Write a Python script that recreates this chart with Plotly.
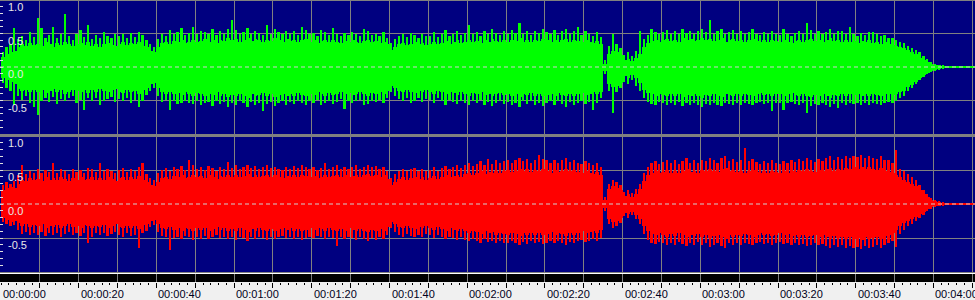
import plotly.graph_objects as go

# ---------------- data (per-second envelope) ----------------
t_sec = list(range(251))

green_core_top = [
    0.15, 0.20, 0.22, 0.24, 0.30, 0.34, 0.31, 0.36, 0.33, 0.35,
    0.32, 0.37, 0.34, 0.30, 0.36, 0.33, 0.38, 0.35, 0.31, 0.34,
    0.36, 0.33, 0.37, 0.32, 0.35, 0.30, 0.34, 0.36, 0.33, 0.31,
    0.35, 0.37, 0.33, 0.36, 0.34, 0.38, 0.32, 0.30, 0.24, 0.22,
    0.30, 0.36, 0.38, 0.35, 0.39, 0.37, 0.40, 0.36, 0.38, 0.41,
    0.37, 0.39, 0.42, 0.38, 0.40, 0.36, 0.41, 0.39, 0.43, 0.40,
    0.42, 0.38, 0.41, 0.44, 0.39, 0.42, 0.40, 0.37, 0.41, 0.39,
    0.43, 0.40, 0.38, 0.42, 0.39, 0.41, 0.37, 0.40, 0.42, 0.38,
    0.40, 0.36, 0.39, 0.41, 0.37, 0.40, 0.38, 0.36, 0.39, 0.37,
    0.40, 0.38, 0.36, 0.39, 0.41, 0.37, 0.39, 0.36, 0.38, 0.34,
    0.26, 0.30, 0.34, 0.36, 0.33, 0.35, 0.37, 0.34, 0.36, 0.33,
    0.35, 0.38, 0.34, 0.36, 0.39, 0.35, 0.37, 0.40, 0.36, 0.38,
    0.41, 0.37, 0.39, 0.36, 0.40, 0.38, 0.42, 0.39, 0.37, 0.40,
    0.38, 0.41, 0.39, 0.43, 0.38, 0.40, 0.37, 0.41, 0.39, 0.42,
    0.40, 0.38, 0.41, 0.37, 0.40, 0.42, 0.38, 0.41, 0.39, 0.37,
    0.40, 0.38, 0.36, 0.39, 0.35, 0.05, 0.20, 0.24, 0.22, 0.18,
    0.10, 0.12, 0.09, 0.13, 0.20, 0.30, 0.36, 0.39, 0.41, 0.38,
    0.40, 0.42, 0.39, 0.41, 0.38, 0.43, 0.40, 0.42, 0.39, 0.41,
    0.44, 0.40, 0.42, 0.39, 0.41, 0.43, 0.38, 0.40, 0.42, 0.39,
    0.41, 0.38, 0.40, 0.42, 0.39, 0.37, 0.40, 0.38, 0.41, 0.39,
    0.37, 0.40, 0.38, 0.36, 0.39, 0.41, 0.38, 0.40, 0.42, 0.39,
    0.41, 0.38, 0.40, 0.43, 0.39, 0.41, 0.38, 0.40, 0.37, 0.39,
    0.36, 0.39, 0.37, 0.40, 0.36, 0.38, 0.35, 0.37, 0.34, 0.33,
    0.32, 0.30, 0.29, 0.25, 0.22, 0.19, 0.14, 0.11, 0.08, 0.05,
    0.035, 0.025, 0.018, 0.012, 0.008, 0.006, 0.006, 0.006, 0.006, 0.006, 0.006,
]
green_core_bot = [
    -0.16, -0.20, -0.23, -0.26, -0.33, -0.36, -0.34, -0.38, -0.35, -0.37,
    -0.35, -0.39, -0.36, -0.33, -0.38, -0.35, -0.40, -0.37, -0.34, -0.36,
    -0.38, -0.35, -0.39, -0.34, -0.37, -0.33, -0.36, -0.38, -0.35, -0.33,
    -0.37, -0.39, -0.35, -0.38, -0.36, -0.40, -0.34, -0.32, -0.26, -0.24,
    -0.32, -0.38, -0.40, -0.37, -0.41, -0.39, -0.42, -0.38, -0.40, -0.43,
    -0.39, -0.41, -0.44, -0.40, -0.42, -0.38, -0.43, -0.41, -0.45, -0.42,
    -0.44, -0.40, -0.43, -0.46, -0.41, -0.44, -0.42, -0.39, -0.43, -0.41,
    -0.45, -0.42, -0.40, -0.44, -0.41, -0.43, -0.39, -0.42, -0.44, -0.40,
    -0.42, -0.38, -0.41, -0.43, -0.39, -0.42, -0.40, -0.38, -0.41, -0.39,
    -0.42, -0.40, -0.38, -0.41, -0.43, -0.39, -0.41, -0.38, -0.40, -0.36,
    -0.28, -0.32, -0.36, -0.38, -0.35, -0.37, -0.39, -0.36, -0.38, -0.35,
    -0.37, -0.40, -0.36, -0.38, -0.41, -0.37, -0.39, -0.42, -0.38, -0.40,
    -0.43, -0.39, -0.41, -0.38, -0.42, -0.40, -0.44, -0.41, -0.39, -0.42,
    -0.40, -0.43, -0.41, -0.45, -0.40, -0.42, -0.39, -0.43, -0.41, -0.44,
    -0.42, -0.40, -0.43, -0.39, -0.42, -0.44, -0.40, -0.43, -0.41, -0.39,
    -0.42, -0.40, -0.38, -0.41, -0.37, -0.06, -0.26, -0.30, -0.28, -0.24,
    -0.14, -0.16, -0.12, -0.17, -0.24, -0.34, -0.39, -0.41, -0.43, -0.40,
    -0.42, -0.44, -0.41, -0.43, -0.40, -0.45, -0.42, -0.44, -0.41, -0.43,
    -0.46, -0.42, -0.44, -0.41, -0.43, -0.45, -0.40, -0.42, -0.44, -0.41,
    -0.43, -0.40, -0.42, -0.44, -0.41, -0.39, -0.42, -0.40, -0.43, -0.41,
    -0.40, -0.43, -0.41, -0.39, -0.42, -0.44, -0.41, -0.43, -0.45, -0.42,
    -0.44, -0.41, -0.43, -0.46, -0.42, -0.44, -0.41, -0.43, -0.40, -0.42,
    -0.40, -0.43, -0.41, -0.44, -0.40, -0.42, -0.44, -0.41, -0.40, -0.42,
    -0.40, -0.38, -0.36, -0.30, -0.27, -0.22, -0.16, -0.12, -0.09, -0.06,
    -0.04, -0.03, -0.02, -0.014, -0.009, -0.006, -0.006, -0.006, -0.006, -0.006, -0.006,
]
green_peak_top = [
    0.22, 0.30, 0.34, 0.58, 0.42, 0.47, 0.40, 0.52, 0.45, 0.73,
    0.58, 0.44, 0.48, 0.60, 0.43, 0.50, 0.79, 0.46, 0.41, 0.49,
    0.55, 0.45, 0.63, 0.42, 0.48, 0.44, 0.52, 0.47, 0.43, 0.50,
    0.46, 0.49, 0.44, 0.51, 0.45, 0.52, 0.48, 0.40, 0.34, 0.30,
    0.42, 0.50, 0.47, 0.55, 0.49, 0.52, 0.58, 0.48, 0.51, 0.60,
    0.49, 0.54, 0.52, 0.50, 0.56, 0.48, 0.53, 0.50, 0.57, 0.70,
    0.55, 0.49, 0.52, 0.58, 0.50, 0.54, 0.51, 0.48, 0.62, 0.50,
    0.56, 0.52, 0.49, 0.54, 0.50, 0.53, 0.48, 0.60, 0.55, 0.49,
    0.51, 0.47, 0.55, 0.52, 0.48, 0.58, 0.50, 0.46, 0.51, 0.48,
    0.52, 0.49, 0.47, 0.56, 0.53, 0.48, 0.50, 0.47, 0.52, 0.44,
    0.36, 0.42, 0.46, 0.49, 0.45, 0.51, 0.48, 0.44, 0.50, 0.46,
    0.47, 0.52, 0.45, 0.49, 0.55, 0.47, 0.50, 0.53, 0.48, 0.51,
    0.62, 0.49, 0.52, 0.47, 0.54, 0.50, 0.56, 0.51, 0.48, 0.53,
    0.50, 0.55, 0.51, 0.65, 0.49, 0.53, 0.48, 0.54, 0.51, 0.56,
    0.52, 0.49, 0.55, 0.48, 0.53, 0.57, 0.50, 0.54, 0.60, 0.48,
    0.53, 0.50, 0.47, 0.52, 0.45, 0.10, 0.32, 0.50, 0.34, 0.28,
    0.18, 0.22, 0.16, 0.24, 0.53, 0.42, 0.48, 0.57, 0.52, 0.49,
    0.52, 0.55, 0.50, 0.53, 0.49, 0.56, 0.51, 0.54, 0.50, 0.53,
    0.57, 0.52, 0.70, 0.50, 0.53, 0.56, 0.49, 0.52, 0.55, 0.50,
    0.53, 0.49, 0.52, 0.56, 0.50, 0.48, 0.52, 0.49, 0.54, 0.50,
    0.48, 0.57, 0.50, 0.47, 0.51, 0.54, 0.49, 0.66, 0.55, 0.50,
    0.53, 0.49, 0.52, 0.56, 0.50, 0.53, 0.54, 0.49, 0.60, 0.50,
    0.47, 0.51, 0.48, 0.52, 0.52, 0.49, 0.46, 0.48, 0.44, 0.43,
    0.41, 0.38, 0.36, 0.32, 0.29, 0.25, 0.22, 0.16, 0.12, 0.08,
    0.05, 0.035, 0.025, 0.016, 0.01, 0.007, 0.007, 0.007, 0.007, 0.007, 0.007,
]
green_peak_bot = [
    -0.24, -0.32, -0.36, -0.57, -0.44, -0.49, -0.43, -0.54, -0.60, -0.72,
    -0.50, -0.46, -0.52, -0.45, -0.55, -0.48, -0.51, -0.47, -0.44, -0.53,
    -0.49, -0.64, -0.47, -0.51, -0.46, -0.57, -0.50, -0.48, -0.45, -0.52,
    -0.48, -0.51, -0.46, -0.53, -0.49, -0.60, -0.50, -0.42, -0.36, -0.32,
    -0.44, -0.52, -0.49, -0.64, -0.51, -0.55, -0.53, -0.50, -0.54, -0.55,
    -0.51, -0.56, -0.53, -0.52, -0.58, -0.50, -0.55, -0.52, -0.59, -0.54,
    -0.57, -0.51, -0.54, -0.60, -0.52, -0.56, -0.53, -0.66, -0.55, -0.52,
    -0.58, -0.54, -0.51, -0.56, -0.52, -0.55, -0.50, -0.54, -0.57, -0.51,
    -0.53, -0.49, -0.56, -0.54, -0.50, -0.55, -0.52, -0.48, -0.62, -0.50,
    -0.54, -0.51, -0.49, -0.57, -0.55, -0.50, -0.52, -0.49, -0.54, -0.46,
    -0.38, -0.44, -0.48, -0.51, -0.47, -0.53, -0.50, -0.46, -0.52, -0.48,
    -0.49, -0.54, -0.47, -0.51, -0.57, -0.49, -0.52, -0.55, -0.50, -0.53,
    -0.56, -0.51, -0.54, -0.49, -0.56, -0.52, -0.58, -0.53, -0.50, -0.55,
    -0.52, -0.57, -0.53, -0.59, -0.51, -0.55, -0.50, -0.56, -0.53, -0.58,
    -0.54, -0.51, -0.57, -0.50, -0.55, -0.59, -0.52, -0.56, -0.53, -0.50,
    -0.55, -0.52, -0.64, -0.54, -0.47, -0.10, -0.36, -0.69, -0.38, -0.32,
    -0.22, -0.26, -0.20, -0.28, -0.36, -0.46, -0.52, -0.55, -0.56, -0.52,
    -0.54, -0.57, -0.53, -0.56, -0.52, -0.58, -0.54, -0.57, -0.53, -0.56,
    -0.60, -0.55, -0.57, -0.54, -0.56, -0.58, -0.53, -0.55, -0.57, -0.54,
    -0.56, -0.53, -0.55, -0.57, -0.54, -0.52, -0.55, -0.53, -0.66, -0.54,
    -0.53, -0.64, -0.54, -0.52, -0.55, -0.57, -0.54, -0.69, -0.58, -0.55,
    -0.57, -0.54, -0.56, -0.59, -0.55, -0.61, -0.54, -0.56, -0.53, -0.55,
    -0.53, -0.56, -0.54, -0.57, -0.54, -0.55, -0.57, -0.54, -0.52, -0.53,
    -0.50, -0.47, -0.44, -0.36, -0.32, -0.26, -0.20, -0.15, -0.11, -0.08,
    -0.055, -0.04, -0.028, -0.018, -0.012, -0.008, -0.008, -0.008, -0.008, -0.008, -0.008,
]

red_core_top = [
    0.20, 0.23, 0.25, 0.24, 0.30, 0.36, 0.34, 0.38, 0.35, 0.37,
    0.34, 0.39, 0.36, 0.38, 0.35, 0.40, 0.37, 0.34, 0.38, 0.36,
    0.39, 0.35, 0.37, 0.40, 0.36, 0.38, 0.35, 0.39, 0.37, 0.34,
    0.38, 0.40, 0.36, 0.39, 0.37, 0.41, 0.35, 0.33, 0.28, 0.26,
    0.33, 0.38, 0.40, 0.37, 0.41, 0.39, 0.42, 0.38, 0.40, 0.43,
    0.39, 0.41, 0.38, 0.42, 0.40, 0.37, 0.41, 0.39, 0.42, 0.40,
    0.43, 0.39, 0.41, 0.44, 0.40, 0.42, 0.39, 0.41, 0.43, 0.40,
    0.42, 0.40, 0.38, 0.41, 0.39, 0.42, 0.40, 0.43, 0.41, 0.39,
    0.41, 0.38, 0.40, 0.42, 0.39, 0.41, 0.43, 0.40, 0.42, 0.39,
    0.41, 0.43, 0.40, 0.42, 0.44, 0.41, 0.43, 0.40, 0.42, 0.37,
    0.28, 0.33, 0.37, 0.39, 0.36, 0.38, 0.40, 0.37, 0.39, 0.36,
    0.38, 0.41, 0.37, 0.40, 0.42, 0.39, 0.41, 0.43, 0.40, 0.44,
    0.46, 0.43, 0.45, 0.48, 0.44, 0.47, 0.45, 0.49, 0.46, 0.48,
    0.50, 0.47, 0.49, 0.52, 0.48, 0.51, 0.47, 0.50, 0.48, 0.51,
    0.49, 0.46, 0.50, 0.47, 0.49, 0.52, 0.48, 0.50, 0.47, 0.45,
    0.48, 0.46, 0.44, 0.47, 0.42, 0.06, 0.22, 0.26, 0.24, 0.20,
    0.12, 0.14, 0.11, 0.15, 0.22, 0.34, 0.42, 0.46, 0.48, 0.45,
    0.47, 0.50, 0.46, 0.49, 0.45, 0.48, 0.51, 0.47, 0.49, 0.46,
    0.50, 0.48, 0.52, 0.49, 0.47, 0.51, 0.53, 0.48, 0.50, 0.47,
    0.49, 0.46, 0.48, 0.50, 0.47, 0.45, 0.48, 0.46, 0.49, 0.47,
    0.45, 0.48, 0.46, 0.49, 0.47, 0.50, 0.48, 0.51, 0.49, 0.47,
    0.50, 0.48, 0.51, 0.53, 0.49, 0.52, 0.50, 0.53, 0.51, 0.54,
    0.52, 0.55, 0.51, 0.54, 0.52, 0.50, 0.53, 0.49, 0.47, 0.45,
    0.42, 0.39, 0.36, 0.33, 0.30, 0.26, 0.20, 0.15, 0.10, 0.06,
    0.04, 0.03, 0.02, 0.013, 0.008, 0.006, 0.006, 0.006, 0.006, 0.006, 0.006,
]
red_core_bot = [
    -0.20, -0.24, -0.26, -0.25, -0.28, -0.32, -0.30, -0.34, -0.31, -0.33,
    -0.30, -0.35, -0.32, -0.34, -0.31, -0.36, -0.33, -0.30, -0.34, -0.32,
    -0.35, -0.31, -0.33, -0.36, -0.32, -0.34, -0.31, -0.35, -0.33, -0.30,
    -0.34, -0.36, -0.32, -0.35, -0.33, -0.37, -0.31, -0.29, -0.25, -0.23,
    -0.30, -0.35, -0.37, -0.34, -0.38, -0.36, -0.39, -0.35, -0.37, -0.40,
    -0.36, -0.38, -0.35, -0.39, -0.37, -0.34, -0.38, -0.36, -0.39, -0.37,
    -0.40, -0.36, -0.38, -0.41, -0.37, -0.39, -0.36, -0.38, -0.40, -0.37,
    -0.39, -0.37, -0.35, -0.38, -0.36, -0.39, -0.37, -0.40, -0.38, -0.36,
    -0.38, -0.35, -0.37, -0.39, -0.36, -0.38, -0.40, -0.37, -0.39, -0.36,
    -0.38, -0.40, -0.37, -0.39, -0.41, -0.38, -0.40, -0.37, -0.39, -0.34,
    -0.26, -0.30, -0.34, -0.36, -0.33, -0.35, -0.37, -0.34, -0.36, -0.33,
    -0.35, -0.38, -0.34, -0.37, -0.39, -0.36, -0.38, -0.40, -0.37, -0.40,
    -0.42, -0.39, -0.41, -0.44, -0.40, -0.43, -0.41, -0.45, -0.42, -0.44,
    -0.45, -0.42, -0.44, -0.47, -0.43, -0.46, -0.42, -0.45, -0.43, -0.46,
    -0.44, -0.41, -0.45, -0.42, -0.44, -0.47, -0.43, -0.45, -0.42, -0.40,
    -0.43, -0.41, -0.39, -0.42, -0.38, -0.06, -0.22, -0.27, -0.25, -0.21,
    -0.13, -0.15, -0.12, -0.16, -0.22, -0.33, -0.40, -0.44, -0.46, -0.43,
    -0.45, -0.48, -0.44, -0.47, -0.43, -0.46, -0.49, -0.45, -0.47, -0.44,
    -0.48, -0.46, -0.50, -0.47, -0.45, -0.49, -0.51, -0.46, -0.48, -0.45,
    -0.47, -0.44, -0.46, -0.48, -0.45, -0.43, -0.46, -0.44, -0.47, -0.45,
    -0.43, -0.46, -0.44, -0.47, -0.45, -0.48, -0.46, -0.49, -0.47, -0.45,
    -0.48, -0.46, -0.49, -0.51, -0.47, -0.50, -0.48, -0.51, -0.49, -0.52,
    -0.50, -0.53, -0.49, -0.52, -0.50, -0.48, -0.51, -0.47, -0.45, -0.42,
    -0.38, -0.33, -0.28, -0.25, -0.22, -0.19, -0.15, -0.12, -0.08, -0.05,
    -0.035, -0.025, -0.018, -0.012, -0.008, -0.006, -0.006, -0.006, -0.006, -0.006, -0.006,
]
red_peak_top = [
    0.28, 0.32, 0.30, 0.34, 0.42, 0.57, 0.44, 0.49, 0.46, 0.52,
    0.45, 0.50, 0.47, 0.60, 0.46, 0.51, 0.48, 0.44, 0.52, 0.47,
    0.50, 0.46, 0.53, 0.51, 0.47, 0.60, 0.48, 0.52, 0.49, 0.45,
    0.50, 0.53, 0.47, 0.51, 0.49, 0.55, 0.61, 0.44, 0.38, 0.35,
    0.45, 0.50, 0.53, 0.49, 0.54, 0.51, 0.56, 0.50, 0.64, 0.57,
    0.52, 0.55, 0.50, 0.56, 0.53, 0.49, 0.54, 0.51, 0.62, 0.53,
    0.57, 0.52, 0.54, 0.58, 0.53, 0.56, 0.51, 0.54, 0.57, 0.53,
    0.55, 0.52, 0.50, 0.54, 0.51, 0.56, 0.53, 0.57, 0.54, 0.51,
    0.54, 0.50, 0.53, 0.60, 0.51, 0.54, 0.57, 0.52, 0.55, 0.51,
    0.54, 0.57, 0.52, 0.55, 0.58, 0.54, 0.56, 0.52, 0.55, 0.48,
    0.38, 0.44, 0.49, 0.52, 0.48, 0.51, 0.53, 0.49, 0.52, 0.48,
    0.50, 0.54, 0.49, 0.53, 0.56, 0.51, 0.54, 0.57, 0.53, 0.58,
    0.60, 0.56, 0.59, 0.63, 0.58, 0.66, 0.59, 0.64, 0.60, 0.63,
    0.65, 0.61, 0.64, 0.68, 0.63, 0.66, 0.61, 0.65, 0.72, 0.66,
    0.64, 0.60, 0.65, 0.61, 0.64, 0.68, 0.62, 0.65, 0.61, 0.59,
    0.63, 0.60, 0.57, 0.61, 0.55, 0.10, 0.30, 0.36, 0.33, 0.28,
    0.18, 0.21, 0.16, 0.22, 0.30, 0.45, 0.55, 0.60, 0.63, 0.59,
    0.62, 0.65, 0.60, 0.64, 0.59, 0.63, 0.67, 0.61, 0.64, 0.60,
    0.65, 0.63, 0.68, 0.64, 0.61, 0.67, 0.70, 0.63, 0.66, 0.62,
    0.65, 0.82, 0.63, 0.66, 0.62, 0.59, 0.63, 0.60, 0.64, 0.61,
    0.59, 0.63, 0.60, 0.64, 0.62, 0.66, 0.63, 0.67, 0.64, 0.62,
    0.66, 0.63, 0.67, 0.70, 0.65, 0.69, 0.66, 0.70, 0.67, 0.71,
    0.69, 0.72, 0.67, 0.71, 0.68, 0.66, 0.70, 0.65, 0.64, 0.60,
    0.80, 0.52, 0.48, 0.44, 0.40, 0.36, 0.28, 0.21, 0.14, 0.09,
    0.06, 0.04, 0.028, 0.018, 0.011, 0.008, 0.008, 0.008, 0.008, 0.008, 0.008,
]
red_peak_bot = [
    -0.26, -0.30, -0.32, -0.31, -0.38, -0.44, -0.41, -0.46, -0.42, -0.45,
    -0.41, -0.47, -0.43, -0.46, -0.42, -0.48, -0.44, -0.41, -0.45, -0.43,
    -0.47, -0.42, -0.58, -0.48, -0.43, -0.46, -0.42, -0.47, -0.44, -0.41,
    -0.46, -0.48, -0.43, -0.47, -0.45, -0.65, -0.42, -0.40, -0.34, -0.31,
    -0.41, -0.47, -0.49, -0.68, -0.50, -0.48, -0.52, -0.47, -0.49, -0.53,
    -0.48, -0.51, -0.47, -0.52, -0.49, -0.46, -0.50, -0.48, -0.51, -0.49,
    -0.53, -0.48, -0.50, -0.54, -0.49, -0.52, -0.48, -0.50, -0.53, -0.49,
    -0.51, -0.49, -0.47, -0.50, -0.48, -0.52, -0.49, -0.53, -0.50, -0.48,
    -0.50, -0.47, -0.49, -0.52, -0.48, -0.50, -0.62, -0.49, -0.51, -0.48,
    -0.50, -0.53, -0.49, -0.52, -0.55, -0.50, -0.53, -0.49, -0.51, -0.45,
    -0.36, -0.41, -0.45, -0.48, -0.44, -0.47, -0.49, -0.46, -0.48, -0.44,
    -0.46, -0.50, -0.45, -0.49, -0.52, -0.48, -0.50, -0.53, -0.49, -0.53,
    -0.55, -0.51, -0.54, -0.57, -0.52, -0.56, -0.54, -0.58, -0.55, -0.57,
    -0.58, -0.55, -0.57, -0.60, -0.56, -0.59, -0.55, -0.58, -0.56, -0.59,
    -0.57, -0.54, -0.58, -0.55, -0.57, -0.60, -0.56, -0.58, -0.55, -0.53,
    -0.56, -0.54, -0.51, -0.55, -0.50, -0.10, -0.30, -0.36, -0.33, -0.28,
    -0.18, -0.21, -0.16, -0.22, -0.30, -0.44, -0.53, -0.57, -0.59, -0.56,
    -0.58, -0.61, -0.57, -0.60, -0.56, -0.59, -0.62, -0.57, -0.60, -0.56,
    -0.61, -0.58, -0.63, -0.60, -0.57, -0.62, -0.65, -0.58, -0.61, -0.57,
    -0.60, -0.57, -0.59, -0.61, -0.58, -0.56, -0.59, -0.57, -0.60, -0.58,
    -0.56, -0.59, -0.57, -0.60, -0.58, -0.61, -0.59, -0.62, -0.60, -0.58,
    -0.61, -0.59, -0.62, -0.64, -0.60, -0.63, -0.61, -0.64, -0.62, -0.65,
    -0.63, -0.66, -0.62, -0.65, -0.63, -0.61, -0.64, -0.60, -0.58, -0.55,
    -0.63, -0.44, -0.38, -0.33, -0.29, -0.25, -0.20, -0.16, -0.11, -0.07,
    -0.05, -0.035, -0.025, -0.016, -0.011, -0.008, -0.008, -0.008, -0.008, -0.008, -0.008,
]

x_grid_vals = list(range(10, 251, 10))
x_label_vals = [0, 20, 40, 60, 80, 100, 120, 140, 160, 180, 200, 220, 240]
x_label_text = ["00:00:00", "00:00:20", "00:00:40", "00:01:00", "00:01:20",
                "00:01:40", "00:02:00", "00:02:20", "00:02:40", "00:03:00",
                "00:03:20", "00:03:40", "00:04:00"]
y_label_vals = [1.0, 0.5, 0.0, -0.5]
y_label_text = ["1.0", "0.5", "0.0", "-0.5"]

# ---------------- figure ----------------
W, H = 975, 300
NAVY = "#000080"
GRID = "#808080"
FONT = "Liberation Sans"


def py(px):
    return 1 - px / H


fig = go.Figure()


def add_channel(top, bot, ptop, pbot, color, yaxis):
    n = min(len(t_sec), len(top), len(bot), len(ptop), len(pbot))
    xs = [t_sec[i] + 0.5 for i in range(n)]
    fig.add_trace(go.Bar(
        x=xs, base=pbot[:n], y=[ptop[i] - pbot[i] for i in range(n)],
        width=0.45, marker=dict(color=color, line=dict(width=0)),
        xaxis="x", yaxis=yaxis, hoverinfo="skip", showlegend=False))
    fig.add_trace(go.Bar(
        x=xs, base=bot[:n], y=[top[i] - bot[i] for i in range(n)],
        width=1.0, marker=dict(color=color, line=dict(width=0)),
        xaxis="x", yaxis=yaxis, hoverinfo="skip", showlegend=False))


add_channel(green_core_top, green_core_bot, green_peak_top, green_peak_bot, "#00FF00", "y")
add_channel(red_core_top, red_core_bot, red_peak_top, red_peak_bot, "#FF0000", "y2")

# invisible point so the time strip subplot exists
fig.add_trace(go.Scatter(x=[0], y=[0.5], xaxis="x", yaxis="y3", mode="markers",
                         marker=dict(opacity=0), hoverinfo="skip", showlegend=False))

yax_common = dict(
    range=[-1, 1], anchor="x", tickmode="array", tickvals=[-0.5, 0.5],
    showgrid=True, gridcolor=GRID, gridwidth=1, ticks="inside", ticklen=3,
    tickcolor="#E0E0E0", showticklabels=False, zeroline=False, showline=False,
    fixedrange=True,
    minor=dict(tickmode="linear", tick0=0, dtick=0.1, ticks="inside", ticklen=3,
               tickcolor="#E0E0E0", showgrid=False),
)

shapes = []
for yr in ["y", "y2"]:
    shapes.append(dict(type="line", xref="paper", x0=0, x1=1, yref=yr, y0=0, y1=0,
                       line=dict(color="#D0D0D0", width=1, dash="4px,3px"), layer="above"))
# top border, separator, bottom border lines
shapes.append(dict(type="rect", xref="paper", x0=0, x1=1, yref="paper", y0=py(1), y1=1,
                   fillcolor=GRID, line=dict(width=0), layer="above"))
shapes.append(dict(type="rect", xref="paper", x0=0, x1=1, yref="paper", y0=py(137), y1=py(134),
                   fillcolor=GRID, line=dict(width=0), layer="above"))
shapes.append(dict(type="rect", xref="paper", x0=0, x1=1, yref="paper", y0=py(273), y1=py(272),
                   fillcolor=GRID, line=dict(width=0), layer="above"))
shapes.append(dict(type="rect", xref="paper", x0=0, x1=1, yref="paper", y0=py(274), y1=py(273),
                   fillcolor="#FFFFFF", line=dict(width=0), layer="above"))
# black time band
shapes.append(dict(type="rect", xref="paper", x0=0, x1=1, yref="y3 domain", y0=0, y1=1,
                   fillcolor="#000000", line=dict(width=0), layer="below"))

annotations = []
for yr in ["y", "y2"]:
    for v, s in zip(y_label_vals, y_label_text):
        annotations.append(dict(xref="paper", x=7 / W, xanchor="left", yref=yr, y=v,
                                yanchor="top", text=s, showarrow=False, borderpad=0,
                                font=dict(family=FONT, size=11, color="#E8E8E8")))
for v, s in zip(x_label_vals, x_label_text):
    annotations.append(dict(xref="x", x=v, xanchor="left", xshift=1, yref="paper", y=py(286.5),
                            yanchor="top", text=s, showarrow=False, borderpad=0,
                            font=dict(family=FONT, size=11, color="#000020")))

fig.update_layout(
    width=W, height=H, margin=dict(l=0, r=0, t=0, b=0),
    paper_bgcolor="#F0F0F0", plot_bgcolor=NAVY,
    barmode="overlay", bargap=0, showlegend=False,
    xaxis=dict(domain=[0, 1], range=[-0.257, 250.7], anchor="y3",
               tickmode="array", tickvals=x_grid_vals, showgrid=True, gridcolor=GRID,
               gridwidth=1, ticks="outside", ticklen=5, tickwidth=1, tickcolor="#000000",
               showticklabels=False, zeroline=False, showline=False, fixedrange=True,
               minor=dict(tickmode="linear", tick0=0, dtick=2, ticks="outside", ticklen=2,
                          tickcolor="#000000", showgrid=False)),
    yaxis=dict(domain=[py(134), 1], **yax_common),
    yaxis2=dict(domain=[py(272), py(136)], **yax_common),
    yaxis3=dict(domain=[py(282), py(274)], range=[0, 1], anchor="x", showgrid=False,
                ticks="", showticklabels=False, zeroline=False, showline=False,
                fixedrange=True),
    shapes=shapes, annotations=annotations,
)

fig.write_html("out.html")
